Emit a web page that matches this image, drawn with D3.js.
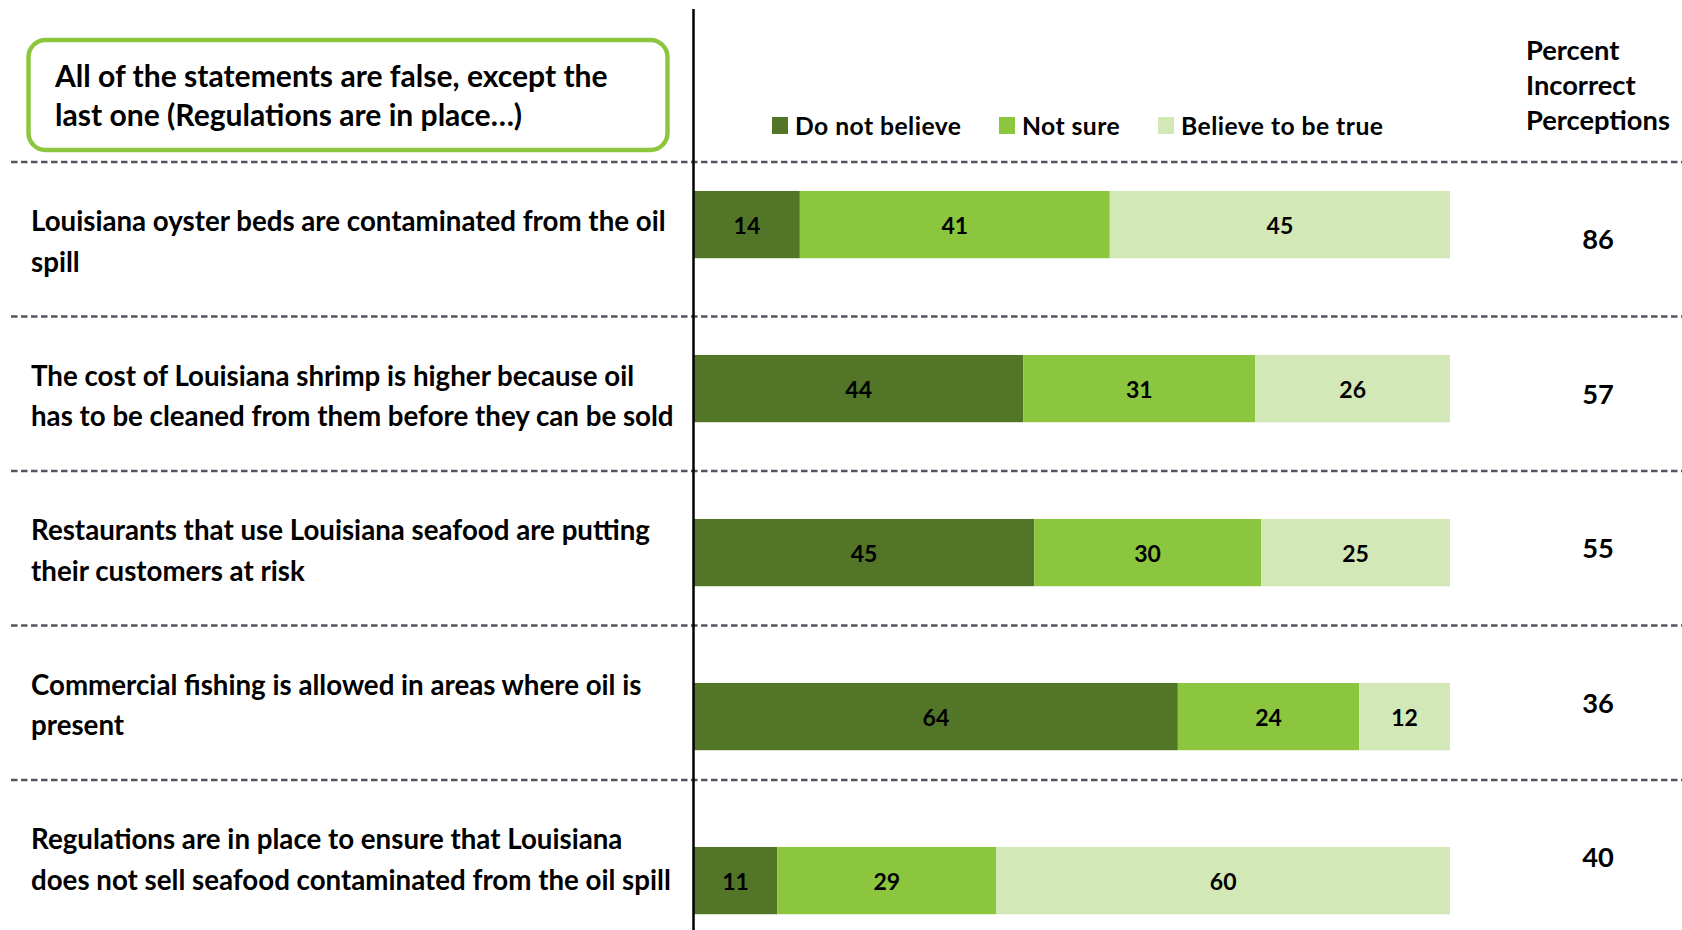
<!DOCTYPE html>
<html><head><meta charset="utf-8">
<script src="https://cdn.jsdelivr.net/npm/d3@7"></script>
<style>
body{margin:0;background:#fff;}
svg{display:block;}
text{font-family:Lato,"Open Sans",sans-serif;font-weight:700;fill:#000;}
</style>
</head><body>
<svg id="c" width="1682" height="930"></svg>
<script>
// ---------- data ----------
const statements = [
  ["Louisiana oyster beds are contaminated from the oil", "spill"],
  ["The cost of Louisiana shrimp is higher because oil", "has to be cleaned from them before they can be sold"],
  ["Restaurants that use Louisiana seafood are putting", "their customers at risk"],
  ["Commercial fishing is allowed in areas where oil is", "present"],
  ["Regulations are in place to ensure that Louisiana", "does not sell seafood contaminated from the oil spill"]
];
const seriesNames = ["Do not believe", "Not sure", "Believe to be true"];
const doNotBelieve = [14, 44, 45, 64, 11];
const notSure      = [41, 31, 30, 24, 29];
const believeTrue  = [45, 26, 25, 12, 60];
const incorrect    = [86, 57, 55, 36, 40];
const noteLines    = ["All of the statements are false, except the", "last one (Regulations are in place…)"];
const headerLines  = ["Percent", "Incorrect", "Perceptions"];
const colors       = ["#527527", "#8cc63f", "#d2e8b6"];

// ---------- build table ----------
const keys = ["dnb", "ns", "bt"];
const table = statements.map((s, i) => ({ idx: i, dnb: doNotBelieve[i], ns: notSure[i], bt: believeTrue[i] }));
const stacked = d3.stack().keys(keys).offset(d3.stackOffsetExpand)(table);

const svg = d3.select("#c");
const W = 1682, H = 930;

// helper: fit font size so that refText measures targetWidth
function fitSize(refText, targetWidth, spacing) {
  const t = svg.append("text").attr("font-size", 100).style("font-weight", 700).text(refText);
  const w = t.node().getComputedTextLength();
  t.remove();
  const extra = (spacing || 0) * (refText.length - 1);
  return 100 * (targetWidth - extra) / w;
}

// ---------- scales ----------
const x = d3.scaleLinear().domain([0, 1]).range([694, 1450]);
const yBar = d3.scaleBand().domain(d3.range(statements.length)).range([142.6, 962.6]).paddingInner(0.59).paddingOuter(0.295);
const yRow = d3.scaleBand().domain(d3.range(statements.length)).range([162, 934.5]);
const color = d3.scaleOrdinal().domain(keys).range(colors);

// ---------- dashed separators ----------
svg.append("g").selectAll("line").data(d3.range(statements.length)).join("line")
  .attr("x1", 11).attr("x2", W)
  .attr("y1", d => yRow(d)).attr("y2", d => yRow(d))
  .attr("stroke", "#545460").attr("stroke-width", 2.5)
  .attr("stroke-dasharray", "6.5,3.5");

// ---------- bars ----------
const gBars = svg.append("g");
stacked.forEach(layer => {
  gBars.append("g").attr("fill", color(layer.key))
    .selectAll("rect").data(layer).join("rect")
    .attr("x", d => x(d[0]))
    .attr("width", d => x(d[1]) - x(d[0]))
    .attr("y", (d, i) => yBar(i))
    .attr("height", yBar.bandwidth());
});

// bar value labels
const labSize = 23;
stacked.forEach(layer => {
  gBars.append("g").selectAll("text").data(layer).join("text")
    .attr("x", d => (x(d[0]) + x(d[1])) / 2)
    .attr("y", (d, i) => yBar(i) + yBar.bandwidth() / 2 + labSize * 0.36 + 1)
    .attr("text-anchor", "middle")
    .attr("font-size", labSize)
    .text(d => d.data[layer.key]);
});

// ---------- vertical axis line ----------
svg.append("line").attr("x1", 693.5).attr("x2", 693.5).attr("y1", 9).attr("y2", H)
  .attr("stroke", "#000").attr("stroke-width", 2.5);

// ---------- row labels ----------
const rowSize = fitSize(statements[0][0], 635);
const lineH = 40.5;
const gLab = svg.append("g");
statements.forEach((lines, i) => {
  const cy = yRow(i) + yRow.bandwidth() / 2;
  const t = gLab.append("text").attr("font-size", rowSize);
  lines.forEach((ln, j) => {
    t.append("tspan").attr("x", 31)
      .attr("y", cy + (j - (lines.length - 1) / 2) * lineH + rowSize * 0.33 + 3)
      .text(ln);
  });
});

// ---------- right column ----------
const hdrSize = fitSize("Perceptions", 144);
const hdr = svg.append("text").attr("font-size", hdrSize);
headerLines.forEach((ln, j) => {
  hdr.append("tspan").attr("x", 1526).attr("y", 60 + j * 35).text(ln);
});
svg.append("g").selectAll("text").data(incorrect).join("text")
  .attr("x", 1598).attr("text-anchor", "middle")
  .attr("y", (d, i) => yRow(i) + yRow.bandwidth() / 2 + 10)
  .attr("font-size", hdrSize)
  .text(d => d);

// ---------- legend ----------
const legSpacing = 0.45;
const legSize = fitSize("Do not believe", 166, legSpacing);
const legX = [772, 999, 1158];
const leg = svg.append("g");
seriesNames.forEach((name, i) => {
  leg.append("rect").attr("x", legX[i]).attr("y", 117).attr("width", 16).attr("height", 17).attr("fill", colors[i]);
  leg.append("text").attr("x", legX[i] + 23).attr("y", 135).attr("font-size", legSize)
    .attr("letter-spacing", legSpacing).text(name);
});

// ---------- note box ----------
svg.append("rect").attr("x", 28.5).attr("y", 40).attr("width", 639).attr("height", 110)
  .attr("rx", 17).attr("ry", 17)
  .attr("fill", "#fff").attr("stroke", "#8cc63f").attr("stroke-width", 4.5);
const noteSize = fitSize(noteLines[0], 553);
const note = svg.append("text").attr("font-size", noteSize);
noteLines.forEach((ln, j) => {
  note.append("tspan").attr("x", 55).attr("y", 87 + j * 39).text(ln);
});
</script>
</body></html>
